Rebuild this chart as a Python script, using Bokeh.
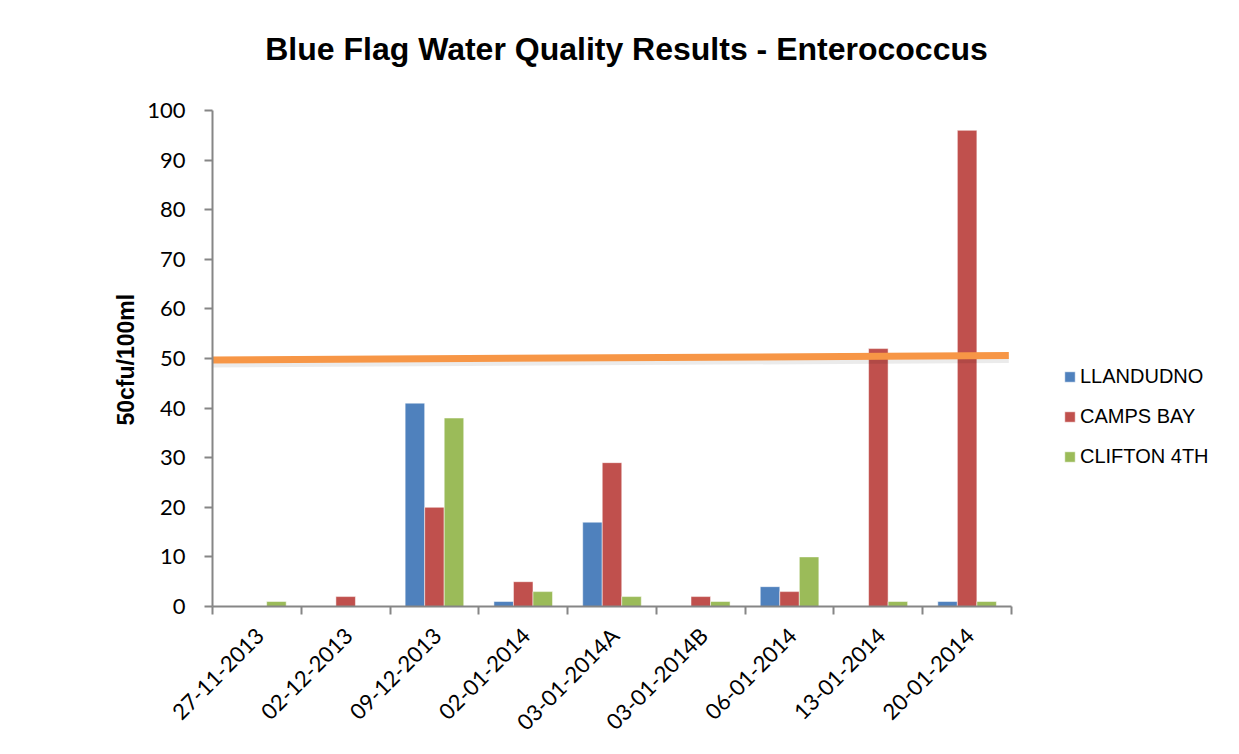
import math
from bokeh.plotting import figure
from bokeh.models import (Range1d, FixedTicker, SingleIntervalTicker, Legend, LegendItem,
                          ColumnDataSource, Label, Title)
from bokeh.embed import file_html
from bokeh.resources import INLINE

# ---- data ----
title_text = "Blue Flag Water Quality Results - Enterococcus"
y_title = "50cfu/100ml"
dates = ["27-11-2013", "02-12-2013", "09-12-2013", "02-01-2014", "03-01-2014A",
         "03-01-2014B", "06-01-2014", "13-01-2014", "20-01-2014"]
llandudno = [0, 0, 41, 1, 17, 0, 4, 0, 1]
camps_bay = [0, 2, 20, 5, 29, 2, 3, 52, 96]
clifton_4th = [1, 0, 38, 3, 2, 1, 10, 1, 1]
series_names = ["LLANDUDNO", "CAMPS BAY", "CLIFTON 4TH"]
limit_x = [0.0, 8.97]
limit_y = [49.7, 50.6]
y_max = 100

colors = ["#4F81BD", "#C0504D", "#9BBB59"]

n = len(dates)
centers = [i + 0.5 for i in range(n)]
bounds = [float(i) for i in range(n + 1)]

# layout (pixels)
W, H = 1239, 754
frame_left, axis_right = 212, 1011
y0_px, y100_px = 606, 110
px_x = (axis_right - frame_left) / n          # pixels per category
px_y = (y0_px - y100_px) / y_max              # pixels per unit
x_end = (W - frame_left) / px_x
y_end = y0_px / px_y

p = figure(width=W, height=H, output_backend="svg", toolbar_location=None,
           x_range=Range1d(0, x_end), y_range=Range1d(0, y_end),
           min_border_left=frame_left, min_border_right=0, min_border_top=0,
           min_border_bottom=H - y0_px)

p.grid.visible = False
p.outline_line_color = None
p.background_fill_color = "white"
p.border_fill_color = "white"

# title
p.add_layout(Label(x=(626 - frame_left) / px_x, y=(y0_px - 48) / px_y, text=title_text,
                   text_align="center", text_baseline="alphabetic",
                   text_font="Liberation Sans", text_font_size="32px",
                   text_font_style="bold", text_color="#000000"))

bw = 0.22
offsets = [-bw, 0.0, bw]
renderers = []
for vals, off, col in zip([llandudno, camps_bay, clifton_4th], offsets, colors):
    src = ColumnDataSource(dict(x=[c + off for c in centers], top=vals))
    r = p.vbar(x="x", top="top", width=bw, bottom=0, source=src, fill_color=col,
               line_color="white", line_alpha=0.5, line_width=1)
    renderers.append(r)

# limit line with a soft shadow
p.line(x=limit_x, y=[v - 0.7 for v in limit_y], line_width=8, line_color="#000000",
       line_alpha=0.08)
p.line(x=limit_x, y=limit_y, line_width=7, line_color="#F79646")

# x axis
label_pos = [c + 0.03 for c in centers]
xa = p.xaxis[0]
xa.bounds = (bounds[0], bounds[-1])
xa.ticker = FixedTicker(ticks=label_pos, minor_ticks=bounds)
xa.major_label_overrides = {c: d for c, d in zip(label_pos, dates)}
xa.major_tick_line_color = None
xa.major_tick_out = 8
xa.major_tick_in = 0
xa.minor_tick_out = 8
xa.minor_tick_in = 0
xa.minor_tick_line_color = "#868686"
xa.minor_tick_line_width = 2
xa.axis_line_color = "#868686"
xa.axis_line_width = 2
xa.major_label_orientation = math.pi / 4
xa.major_label_text_font = "Lato"
xa.major_label_text_font_size = "22px"
xa.major_label_text_color = "#000000"
xa.major_label_standoff = 17

# y axis
ya = p.yaxis[0]
ya.bounds = (0, y_max)
ya.ticker = SingleIntervalTicker(interval=10, num_minor_ticks=0)
ya.axis_line_color = "#868686"
ya.axis_line_width = 2
ya.major_tick_line_color = "#868686"
ya.major_tick_line_width = 2
ya.major_tick_out = 8
ya.major_tick_in = 0
ya.minor_tick_line_color = None
ya.major_label_text_font = "Lato"
ya.major_label_text_font_size = "22px"
ya.major_label_text_color = "#000000"
ya.major_label_standoff = 19

# y-axis title, placed beside the 0..100 span of the axis
p.add_layout(Title(text=y_title, align="left", offset=181, standoff=12,
                   text_font="Liberation Sans", text_font_style="bold",
                   text_font_size="23px", text_color="#000000"), "left")

legend = Legend(items=[LegendItem(label=nm, renderers=[r]) for nm, r in zip(series_names, renderers)],
                location=(851, 138), border_line_color=None, background_fill_alpha=0,
                glyph_width=13, glyph_height=13, label_standoff=4,
                label_text_font="Liberation Sans", label_text_font_size="20px",
                label_text_color="#000000", spacing=17, padding=8, margin=0,
                label_height=20)
p.add_layout(legend)

open("out.html", "w").write(file_html(p, INLINE))
